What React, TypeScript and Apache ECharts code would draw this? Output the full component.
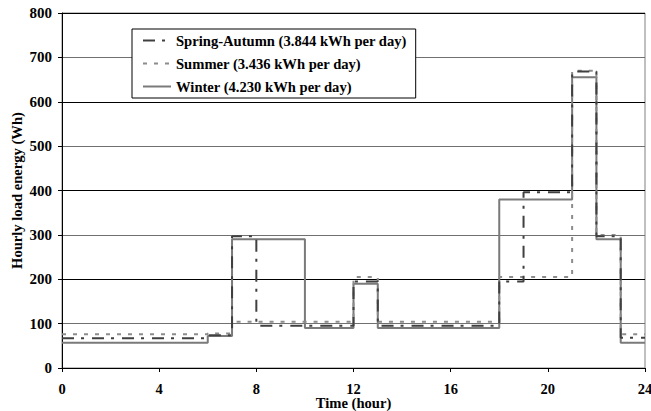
import React, { useEffect, useRef } from "react";
import * as echarts from "echarts";

// Hourly load profile (Wh), one value per hour starting at 0:00
const hours = Array.from({ length: 24 }, (_, i) => i);
const springAutumn = [67, 67, 67, 67, 67, 67, 74, 297, 95, 95, 95, 95, 195, 95, 95, 95, 95, 95, 195, 396, 396, 668, 297, 68];
const summer = [76, 76, 76, 76, 76, 76, 78, 104, 104, 104, 104, 104, 205, 104, 104, 104, 104, 104, 205, 205, 205, 670, 300, 76];
const winter = [57, 57, 57, 57, 57, 57, 72, 290, 290, 290, 90, 90, 190, 90, 90, 90, 90, 90, 380, 380, 380, 655, 290, 57];

const seriesNames = [
  "Spring-Autumn (3.844 kWh per day)",
  "Summer (3.436 kWh per day)",
  "Winter (4.230 kWh per day)",
];

const FONT = "'Liberation Serif', 'Times New Roman', serif";

// hold each hour's value until the next hour, closing at 24:00
const toSteps = (vals: number[]) => [...hours.map((h) => [h, vals[h]]), [24, vals[23]]];

export default function App() {
  const ref = useRef<HTMLDivElement>(null);

  useEffect(() => {
    if (!ref.current) return;
    const chart = echarts.init(ref.current, null, { renderer: "svg" });
    chart.setOption({
      animation: false,
      backgroundColor: "#fff",
      grid: {
        left: 62,
        right: 6,
        top: 13,
        bottom: 43,
        outerBoundsMode: "none",
        show: true,
        borderColor: "#808080",
        borderWidth: 1,
      },
      legend: {
        orient: "vertical",
        left: 132,
        top: 29,
        backgroundColor: "#fff",
        borderColor: "#000",
        borderWidth: 1,
        padding: [4, 9, 4, 10],
        itemGap: 8,
        itemWidth: 28,
        itemHeight: 14,
        itemTextGap: 4,
        itemStyle: { color: "transparent", borderWidth: 0, opacity: 0 },
        textStyle: { fontFamily: FONT, fontWeight: "bold", fontSize: 14.6, color: "#000" },
        data: seriesNames,
      },
      xAxis: {
        type: "value",
        min: 0,
        max: 24,
        interval: 4,
        name: "Time (hour)",
        nameLocation: "middle",
        nameGap: 28,
        nameMoveOverlap: false,
        nameTextStyle: { fontFamily: FONT, fontWeight: "bold", fontSize: 14.6, lineHeight: 13, color: "#000" },
        axisLine: { lineStyle: { color: "#000", width: 1 } },
        axisTick: { length: 4, lineStyle: { color: "#000" } },
        axisLabel: { fontFamily: FONT, fontWeight: "bold", fontSize: 14.5, lineHeight: 12, color: "#000", margin: 15 },
        splitLine: { show: false },
      },
      yAxis: {
        type: "value",
        min: 0,
        max: 800,
        interval: 100,
        name: "Hourly load energy (Wh)",
        nameLocation: "middle",
        nameGap: 38,
        nameMoveOverlap: false,
        nameTextStyle: { fontFamily: FONT, fontWeight: "bold", fontSize: 14.6, color: "#000" },
        axisLine: { show: true, lineStyle: { color: "#000", width: 1 } },
        axisTick: { show: true, length: 4, lineStyle: { color: "#000" } },
        axisLabel: { fontFamily: FONT, fontWeight: "bold", fontSize: 15, color: "#000", margin: 10 },
        splitLine: { show: true, lineStyle: { color: ["#000", "#707070"], width: 1 } },
      },
      series: [
        {
          name: seriesNames[2],
          type: "line",
          step: "end",
          symbol: "none",
          data: toSteps(winter),
          lineStyle: { color: "#7a7a7a", width: 2, type: "solid" },
          itemStyle: { color: "#7a7a7a" },
          z: 2,
        },
        {
          name: seriesNames[1],
          type: "line",
          step: "end",
          symbol: "none",
          data: toSteps(summer),
          lineStyle: { color: "#8c8c8c", width: 2, type: [4, 7] },
          itemStyle: { color: "#8c8c8c" },
          z: 3,
        },
        {
          name: seriesNames[0],
          type: "line",
          step: "end",
          symbol: "none",
          data: toSteps(springAutumn),
          lineStyle: { color: "#404040", width: 2, type: [12, 7, 3, 8] },
          itemStyle: { color: "#404040" },
          z: 4,
        },
      ],
    });
    return () => chart.dispose();
  }, []);

  return <div ref={ref} style={{ position: "fixed", left: 0, top: 0, width: 651, height: 411 }} />;
}
